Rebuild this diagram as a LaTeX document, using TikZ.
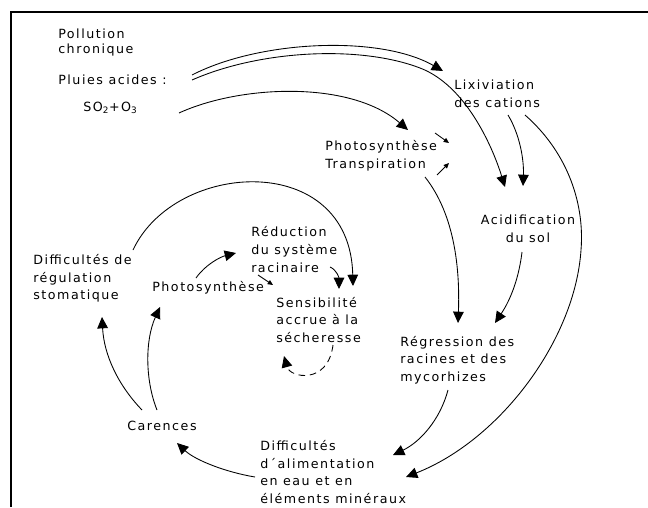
\documentclass[tikz,border=0pt]{standalone}
\usepackage{fontspec}
\setmainfont{DejaVu Sans}[LetterSpace=12]
\usetikzlibrary{arrows.meta}
\begin{document}
\begin{tikzpicture}[x=0.75pt,y=-0.75pt,
  lbl/.style={inner sep=0pt, align=left, anchor=west, font=\fontsize{9.5}{13.2}\selectfont},
  conn/.style={line width=0.65pt, -{Triangle[length=8.5pt,width=8pt]}},
  tiny/.style={line width=0.65pt, -{Triangle[length=4pt,width=3.5pt]}},
  frame/.style={line width=1.6pt}]
\useasboundingbox (0,0) rectangle (648,507);
\draw[frame] (11,507) -- (11,12) -- (648,12);

% texts
\node[lbl, font=\fontsize{9.5}{11.4}\selectfont] (poll) at (58,42.5) {Pollution\\chronique};
\node[lbl] (pluies) at (58,80) {Pluies acides :};
\node[lbl] (so2) at (83,108) {SO\textsubscript{2}+O\textsubscript{3}};
\node[lbl] (lix) at (454,94) {Lixiviation\\des cations};
\node[lbl] (photoA) at (325,156) {Photosynthèse\\Transpiration};
\node[lbl, anchor=center, align=center] (acid) at (528,229) {Acidification\\du sol};
\node[lbl] (diffreg) at (33,278.5) {Difficultés de\\régulation\\stomatique};
\node[lbl] (reduc) at (251,249.5) {Réduction\\du système\\racinaire};
\node[lbl] (photoB) at (152,288) {Photosynthèse};
\node[lbl] (sens) at (276,320) {Sensibilité\\accrue à la\\sécheresse};
\node[lbl] (regr) at (400,360) {Régression des\\racines et des\\mycorhizes};
\node[lbl] (car) at (127,426) {Carences};
\node[lbl] (diffal) at (260,472) {Difficultés\\d´alimentation\\en eau et en\\éléments minéraux};

% connector end points
\coordinate (pA) at (192,75);
\coordinate (pB) at (192,80);
\coordinate (lixIn) at (443,71);
\coordinate (acidL) at (505,187);
\coordinate (acidR) at (523,186);
\coordinate (soOut) at (179,113);
\coordinate (phIn) at (408,130);
\coordinate (cat1) at (508,115);
\coordinate (cat2) at (525,115);
\coordinate (alR) at (406,477);
\coordinate (alU) at (393,455);
\coordinate (trOut) at (425,177);
\coordinate (regL) at (458,323);
\coordinate (regR) at (495,323);
\coordinate (acOut) at (522,252);
\coordinate (regOut) at (448,390);
\coordinate (alOut) at (255,477);
\coordinate (carIn) at (177,443);
\coordinate (car1) at (142,410);
\coordinate (car2) at (157,410);
\coordinate (drIn) at (102,317);
\coordinate (pbIn) at (160,307);
\coordinate (pbOut) at (196,278);
\coordinate (rdIn) at (236,253);
\coordinate (rdOut) at (330,267);
\coordinate (sensA) at (339,289);
\coordinate (drOut) at (133,250);
\coordinate (sensB) at (353,286);
\coordinate (secOut) at (333,345);
\coordinate (secIn) at (284,356);
\coordinate (t1a) at (435,133);
\coordinate (t1b) at (449,143);
\coordinate (t2a) at (437,175);
\coordinate (t2b) at (449,163);
\coordinate (t3a) at (258,275);
\coordinate (t3b) at (273,285);

% connectors
\draw[conn] (pA) .. controls (260,40) and (380,35) .. (lixIn);
\draw[conn] (pB) .. controls (260,50) and (360,45) .. (420,68) .. controls (465,85) and (492,145) .. (acidL);
\draw[conn] (soOut) .. controls (240,85) and (350,80) .. (phIn);
\draw[conn] (cat1) .. controls (520,135) and (524,160) .. (acidR);
\draw[conn] (cat2) .. controls (565,150) and (585,200) .. (581,250) .. controls (575,340) and (500,440) .. (alR);
\draw[conn] (trOut) .. controls (455,215) and (460,270) .. (regL);
\draw[conn] (acOut) .. controls (518,285) and (507,305) .. (regR);
\draw[conn] (regOut) .. controls (440,420) and (420,442) .. (alU);
\draw[conn] (alOut) .. controls (225,472) and (195,460) .. (carIn);
\draw[conn] (car1) .. controls (118,385) and (104,355) .. (drIn);
\draw[conn] (car2) .. controls (145,380) and (145,340) .. (pbIn);
\draw[conn] (pbOut) .. controls (205,265) and (220,257) .. (rdIn);
\draw[conn] (rdOut) .. controls (337,270) and (339,278) .. (sensA);
\draw[conn] (drOut) .. controls (175,160) and (350,150) .. (sensB);
\draw[conn, dash pattern=on 5pt off 3.5pt] (secOut) .. controls (328,385) and (290,378) .. (secIn);
\draw[tiny] (t1a) -- (t1b);
\draw[tiny] (t2a) -- (t2b);
\draw[tiny] (t3a) -- (t3b);
\end{tikzpicture}
\end{document}
